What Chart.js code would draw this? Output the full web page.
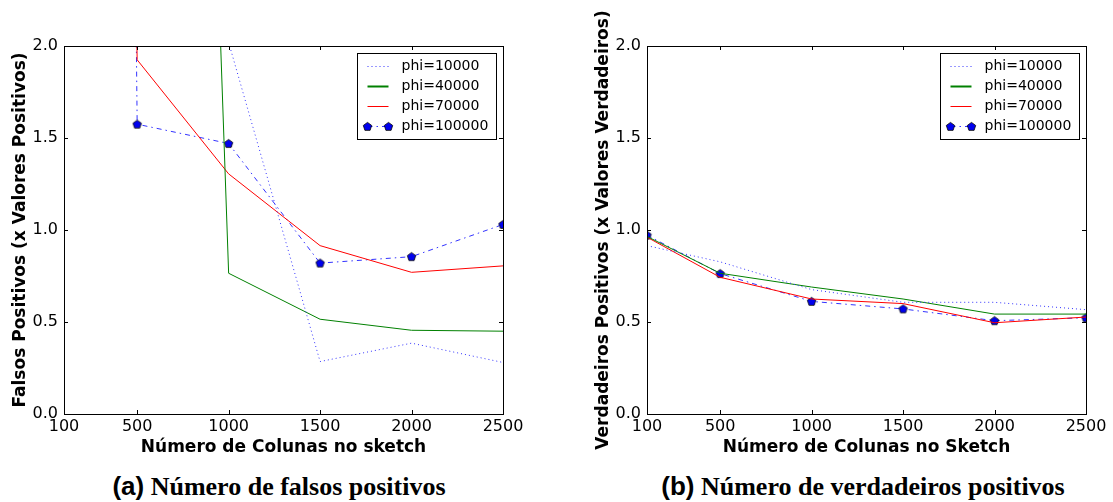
<!DOCTYPE html>
<html>
<head>
<meta charset="utf-8">
<script src="https://cdn.jsdelivr.net/npm/chart.js@4.4.1/dist/chart.umd.min.js"></script>
<style>
  body { margin: 0; background: #fff; width: 1113px; height: 502px; position: relative; overflow: hidden; }
  canvas { position: absolute; top: 0; }
  #chartFalsos { left: 0; }
  #chartVerdadeiros { left: 583px; }
  .legenda {
    position: absolute; top: 473px; line-height: 26px;
    font-family: 'Liberation Serif', serif; font-weight: bold; font-size: 26px;
    white-space: nowrap; transform: translateX(-50%); color: #000;
  }
  .legenda span { font-family: 'Liberation Sans', sans-serif; }
</style>
</head>
<body>
<canvas id="chartFalsos" width="556" height="462"></canvas>
<canvas id="chartVerdadeiros" width="530" height="462"></canvas>
<div class="legenda" style="left:279px"><span>(a)</span> Número de falsos positivos</div>
<div class="legenda" style="left:863px"><span>(b)</span> Número de verdadeiros positivos</div>
<script>
const chartFalsos = document.getElementById('chartFalsos');
const chartVerdadeiros = document.getElementById('chartVerdadeiros');

const colunas = [100, 500, 1000, 1500, 2000, 2500];
const xTicks = [100, 500, 1000, 1500, 2000, 2500];
const yTicks = [0, 0.5, 1, 1.5, 2];
const nomes = ['phi=10000', 'phi=40000', 'phi=70000', 'phi=100000'];

// (a) falsos positivos - os primeiros pontos passam muito de 2.0 (cortados)
const falsosPhi10000 = [40, 9, 2.02, 0.285, 0.385, 0.28];
const falsosPhi40000 = [30, 15, 0.765, 0.515, 0.455, 0.45];
const falsosPhi70000 = [25, 1.925, 1.305, 0.915, 0.77, 0.805];
const falsosPhi100000 = [40, 1.575, 1.47, 0.82, 0.855, 1.03];

// (b) verdadeiros positivos
const verdPhi10000 = [0.915, 0.827, 0.676, 0.607, 0.607, 0.567];
const verdPhi40000 = [0.965, 0.765, 0.69, 0.625, 0.543, 0.543];
const verdPhi70000 = [0.961, 0.743, 0.625, 0.6, 0.496, 0.527];
const verdPhi100000 = [0.972, 0.763, 0.612, 0.571, 0.507, 0.523];

// marcador pentagono (estilo 'p' do matplotlib)
const pentagono = document.createElement('canvas');
pentagono.width = 11;
pentagono.height = 11;
(function () {
  const c = pentagono.getContext('2d');
  c.beginPath();
  for (let k = 0; k < 5; k++) {
    const ang = -Math.PI / 2 + k * 2 * Math.PI / 5;
    const px = 5.5 + 4.4 * Math.cos(ang);
    const py = 5.8 + 4.4 * Math.sin(ang);
    if (k === 0) c.moveTo(px, py); else c.lineTo(px, py);
  }
  c.closePath();
  c.fillStyle = '#0000ee';
  c.fill();
  c.strokeStyle = '#000';
  c.lineWidth = 0.8;
  c.stroke();
})();

const estilos = [
  { borderColor: '#3333ff', borderWidth: 1, borderDash: [1, 3], pointRadius: 0 },
  { borderColor: '#008000', borderWidth: 1, pointRadius: 0 },
  { borderColor: '#ff0000', borderWidth: 1, pointRadius: 0 },
  { borderColor: '#3333ff', borderWidth: 1, borderDash: [5, 4, 1.5, 4], pointRadius: 5, pointStyle: pentagono },
];

function series(valores) {
  return colunas.map((c, i) => ({ x: c, y: valores[i] }));
}

function montaDatasets(listas) {
  return listas.map((valores, i) => Object.assign({
    label: nomes[i],
    data: series(valores),
    tension: 0,
    fill: false,
  }, estilos[i]));
}

const fonte = 'DejaVu Sans';

// moldura + ticks para dentro, titulo y e legenda como no matplotlib
const moldura = {
  id: 'moldura',
  afterDatasetsDraw(chart) {
    const { ctx, chartArea: a, scales: { x, y } } = chart;
    ctx.save();
    ctx.strokeStyle = '#000';
    ctx.lineWidth = 1;
    ctx.beginPath();
    xTicks.forEach(v => {
      const px = Math.round(x.getPixelForValue(v)) + 0.5;
      ctx.moveTo(px, a.bottom); ctx.lineTo(px, a.bottom - 4);
      ctx.moveTo(px, a.top); ctx.lineTo(px, a.top + 4);
    });
    yTicks.forEach(v => {
      const py = Math.round(y.getPixelForValue(v)) + 0.5;
      ctx.moveTo(a.left, py); ctx.lineTo(a.left + 4, py);
      ctx.moveTo(a.right, py); ctx.lineTo(a.right - 4, py);
    });
    ctx.stroke();
    ctx.strokeRect(Math.round(a.left) + 0.5, Math.round(a.top) + 0.5,
      Math.round(a.right - a.left), Math.round(a.bottom - a.top));
    ctx.restore();
  },
  afterDraw(chart, args, opts) {
    const { ctx, chartArea: a, data } = chart;
    ctx.save();
    ctx.translate(opts.tituloX, (a.top + a.bottom) / 2);
    ctx.rotate(-Math.PI / 2);
    ctx.font = 'bold 17px "' + fonte + '"';
    ctx.fillStyle = '#000';
    ctx.textAlign = 'center';
    ctx.textBaseline = 'middle';
    ctx.fillText(opts.tituloY, 0, 0);
    ctx.restore();

    const w = 139, h = 86;
    const bx = Math.round(a.right - 7 - w) + 0.5;
    const by = Math.round(a.top + 7) + 0.5;
    ctx.save();
    ctx.fillStyle = '#fff';
    ctx.fillRect(bx, by, w, h);
    ctx.strokeStyle = '#000';
    ctx.lineWidth = 1;
    ctx.strokeRect(bx, by, w, h);
    ctx.font = '14px "' + fonte + '"';
    ctx.textBaseline = 'middle';
    data.datasets.forEach((ds, i) => {
      const ly = Math.round(by + 12 + 20.3 * i) + 0.5;
      const x0 = bx + 10, x1 = bx + 31;
      ctx.strokeStyle = ds.borderColor;
      ctx.lineWidth = i === 1 ? 2 : 1;
      ctx.setLineDash(ds.borderDash || []);
      ctx.beginPath();
      ctx.moveTo(x0, ly);
      ctx.lineTo(x1, ly);
      ctx.stroke();
      ctx.setLineDash([]);
      if (ds.pointStyle === pentagono) {
        ctx.drawImage(pentagono, x0 - 5.5, ly - 5.5);
        ctx.drawImage(pentagono, x1 - 5.5, ly - 5.5);
      }
      ctx.fillStyle = '#000';
      ctx.fillText(ds.label, bx + 44, ly);
    });
    ctx.restore();
  }
};

function opcoes(tituloX, tituloY, padDireita) {
  return {
    responsive: false,
    animation: false,
    layout: { padding: { left: 0, right: padDireita, top: 46, bottom: 0 } },
    plugins: {
      legend: { display: false },
      tooltip: { enabled: false },
      moldura: { tituloY: tituloY, tituloX: 21 },
    },
    scales: {
      x: {
        type: 'linear',
        min: 100,
        max: 2500,
        afterBuildTicks: s => { s.ticks = xTicks.map(v => ({ value: v })); },
        afterFit: s => { s.height = 48; },
        grid: { display: false, drawTicks: false },
        border: { display: false },
        ticks: { font: { family: fonte, size: 16 }, color: '#000', padding: 3, maxRotation: 0, autoSkip: false, callback: v => String(v) },
        title: {
          display: true, text: tituloX, color: '#000',
          font: { family: fonte, size: 17, weight: 'bold' },
          padding: { top: 0, bottom: 4 },
        },
      },
      y: {
        min: 0,
        max: 2,
        afterBuildTicks: s => { s.ticks = yTicks.map(v => ({ value: v })); },
        afterFit: s => { s.width = 64; },
        grid: { display: false, drawTicks: false },
        border: { display: false },
        ticks: { font: { family: fonte, size: 16 }, color: '#000', padding: 6, callback: v => v.toFixed(1) },
      },
    },
  };
}

new Chart(chartFalsos, {
  type: 'line',
  data: { datasets: montaDatasets([falsosPhi10000, falsosPhi40000, falsosPhi70000, falsosPhi100000]) },
  options: opcoes('Número de Colunas no sketch', 'Falsos Positivos (x Valores Positivos)', 53),
  plugins: [moldura],
});

new Chart(chartVerdadeiros, {
  type: 'line',
  data: { datasets: montaDatasets([verdPhi10000, verdPhi40000, verdPhi70000, verdPhi100000]) },
  options: opcoes('Número de Colunas no Sketch', 'Verdadeiros Positivos (x Valores Verdadeiros)', 27),
  plugins: [moldura],
});
</script>
</body>
</html>
